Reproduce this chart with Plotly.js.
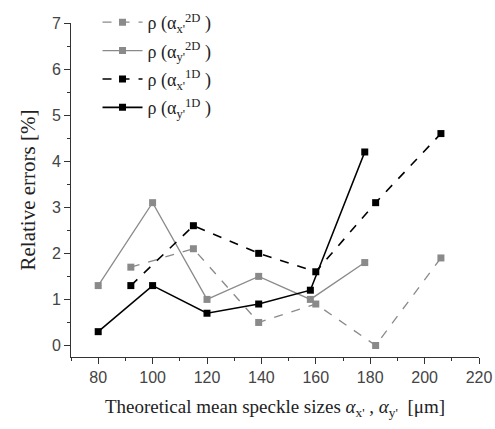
<!DOCTYPE html>
<html>
<head>
<meta charset="utf-8">
<script src="https://cdn.plot.ly/plotly-3.0.1.min.js"></script>
<style>html,body{margin:0;padding:0;background:#fff;}#chart{width:495px;height:429px;}</style>
</head>
<body>
<div id="chart"></div>
<script>
// Data
const seriesNames = [
  "ρ (α<sub>x'</sub><sup>2D</sup> )",
  "ρ (α<sub>y'</sub><sup>2D</sup> )",
  "ρ (α<sub>x'</sub><sup>1D</sup> )",
  "ρ (α<sub>y'</sub><sup>1D</sup> )"
];
const x_ax2D = [92, 115, 139, 160, 182, 206];
const y_ax2D = [1.7, 2.1, 0.5, 0.9, 0.0, 1.9];
const x_ay2D = [80, 100, 120, 139, 158, 178];
const y_ay2D = [1.3, 3.1, 1.0, 1.5, 1.0, 1.8];
const x_ax1D = [92, 115, 139, 160, 182, 206];
const y_ax1D = [1.3, 2.6, 2.0, 1.6, 3.1, 4.6];
const x_ay1D = [80, 100, 120, 139, 158, 178];
const y_ay1D = [0.3, 1.3, 0.7, 0.9, 1.2, 4.2];
const xTicks = [80, 100, 120, 140, 160, 180, 200, 220];
const yTicks = [0, 1, 2, 3, 4, 5, 6, 7];

const gray = '#8a8a8a';
function tr(x, y, name, color, dash, lw, grp) {
  return {
    x: x, y: y, name: name, type: 'scatter', mode: 'lines+markers',
    legendgroup: grp,
    line: {color: color, dash: dash, width: lw},
    marker: {symbol: 'square', size: 7, color: color}
  };
}
const data = [
  tr(x_ax2D, y_ax2D, seriesNames[0], gray, 'dash', 1.3, 'g1'),
  tr(x_ay2D, y_ay2D, seriesNames[1], gray, 'solid', 1.3, 'g2'),
  tr(x_ax1D, y_ax1D, seriesNames[2], '#000', 'dash', 1.6, 'g3'),
  tr(x_ay1D, y_ay1D, seriesNames[3], '#000', 'solid', 1.6, 'g4')
];
const layout = {
  width: 495, height: 429,
  margin: {l: 71, r: 16, t: 23, b: 72, autoexpand: false},
  paper_bgcolor: '#fff', plot_bgcolor: '#fff',
  showlegend: true,
  legend: {
    x: 0.065, y: 1.057, xanchor: 'left', yanchor: 'top',
    bgcolor: 'rgba(0,0,0,0)',
    font: {family: 'Liberation Serif, serif', size: 18, color: '#222'},
    itemwidth: 40, tracegroupgap: 2
  },
  xaxis: {
    range: [70, 220], tickvals: xTicks, ticktext: xTicks.map(String),
    showgrid: false, zeroline: false, showline: true, linecolor: '#333', linewidth: 1,
    ticks: 'outside', ticklen: 6, tickcolor: '#333',
    minor: {dtick: 10, ticks: 'outside', ticklen: 3, tickcolor: '#333', showgrid: false},
    tickfont: {family: 'Liberation Sans, Arial, sans-serif', size: 16, color: '#444'},
    title: {text: "Theoretical mean speckle sizes <i>α</i><sub>x'</sub> , <i>α</i><sub>y'</sub>  [μm]",
            font: {family: 'Liberation Serif, serif', size: 19, color: '#222'}, standoff: 14}
  },
  yaxis: {
    range: [-0.25, 7], tickvals: yTicks, ticktext: yTicks.map(String),
    showgrid: false, zeroline: false, showline: true, linecolor: '#333', linewidth: 1,
    ticks: 'outside', ticklen: 6, tickcolor: '#333',
    minor: {dtick: 0.5, ticks: 'outside', ticklen: 3, tickcolor: '#333', showgrid: false},
    tickfont: {family: 'Liberation Sans, Arial, sans-serif', size: 16, color: '#444'},
    title: {text: 'Relative errors [%]', font: {family: 'Liberation Serif, serif', size: 21, color: '#222'}, standoff: 10}
  }
};
Plotly.newPlot('chart', data, layout, {displayModeBar: false, staticPlot: true});
</script>
</body>
</html>
